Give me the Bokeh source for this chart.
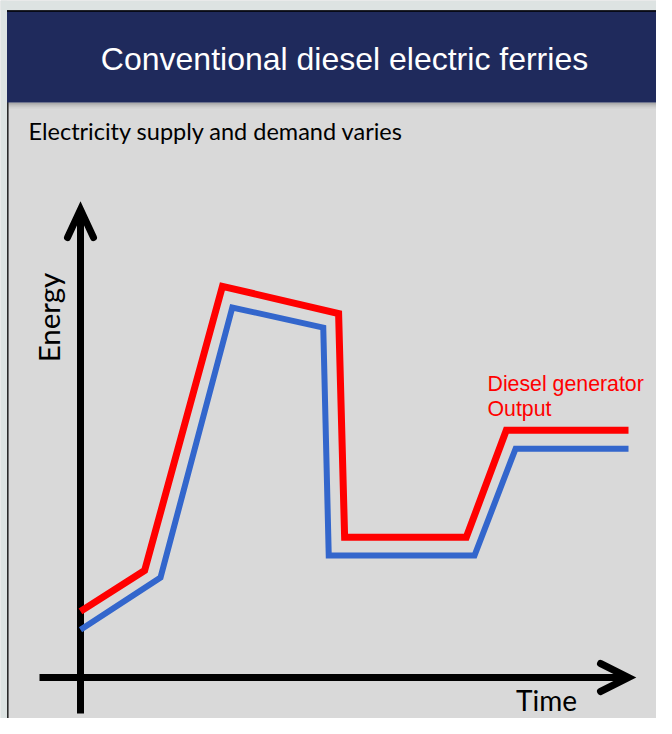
from bokeh.plotting import figure
from bokeh.models import Range1d
from bokeh.core.properties import value
from bokeh.embed import file_html
from bokeh.resources import INLINE
import math

# ---- data (arbitrary units: time 0..10, energy 0..10) ----
red_time   = [0.0, 1.17, 2.59, 4.71, 4.82, 7.04, 7.77, 10.0]
red_energy = [1.41, 2.28, 8.34, 7.76, 2.99, 2.99, 5.27, 5.27]
blue_time   = [0.0, 1.46, 2.77, 4.43, 4.53, 7.19, 7.94, 10.0]
blue_energy = [1.02, 2.13, 7.89, 7.46, 2.60, 2.60, 4.88, 4.88]

title_text = "Conventional diesel electric ferries"
subtitle_text = "Electricity supply and demand varies"
y_label = "Energy"
x_label = "Time"
series_label = ["Diesel generator", "Output"]

# ---- layout: figure pixel <-> data mapping ----
W, H = 656, 718
OX, OY = 80.0, 677.0      # px of the origin
SX, SY = 54.8, 46.9       # px per data unit
def T(px):  # x px -> time
    return (px - OX) / SX
def E(py):  # y px -> energy
    return (OY - py) / SY

p = figure(width=W, height=H, output_backend="svg", toolbar_location=None,
           x_range=Range1d(T(0), T(W)), y_range=Range1d(E(H), E(0)),
           min_border=0, outline_line_color=None)
p.axis.visible = False
p.grid.visible = False
p.background_fill_color = "#d9d9d9"
p.border_fill_color = "#d9d9d9"

# outer light background strips and left border
p.quad(left=T(0), right=T(W), top=E(0), bottom=E(10), fill_color="#dde3e2", line_color=None)
p.quad(left=T(0), right=T(6.5), top=E(0), bottom=E(H), fill_color="#dde3e2", line_color=None)
p.segment(x0=T(7.3), y0=E(10), x1=T(7.3), y1=E(H), line_color="#2b2b2b", line_width=1.6)

# header shadow + header
for i, a in enumerate([0.10, 0.07, 0.04]):
    p.quad(left=T(8), right=T(W), top=E(102), bottom=E(104 + 2 * i),
           fill_color="black", fill_alpha=a, line_color=None)
p.quad(left=T(6.5), right=T(W), top=E(10), bottom=E(102), fill_color="#1f2a5c", line_color=None)
p.segment(x0=T(6.5), y0=E(10.5), x1=T(W), y1=E(10.5), line_color="black", line_width=1.5)

p.text(x=[T(344)], y=[E(58)], text=[title_text], text_color="white",
       text_font=value("Liberation Sans"), text_font_size="32px",
       text_align="center", text_baseline="middle")
p.text(x=[T(28)], y=[E(130)], text=[subtitle_text], text_color="black",
       text_font=value("Lato"), text_font_size="23.5px",
       text_align="left", text_baseline="middle")

# axes with arrows
p.segment(x0=[0, T(39)], y0=[E(713), 0], x1=[0, 10.0], y1=[E(212), 0],
          line_color="black", line_width=7, line_cap="butt")
p.multi_line(xs=[[T(67), 0, T(93)], [T(600), 10.0, T(600)]],
             ys=[[E(237), E(209), E(237)], [E(663), 0, E(691)]],
             line_color="black", line_width=7, line_cap="round", line_join="miter")

# series
p.line(blue_time, blue_energy, line_color="#3366cc", line_width=6, line_join="miter")
p.line(red_time, red_energy, line_color="#ff0000", line_width=7, line_join="miter")

# labels
p.text(x=[T(48)], y=[E(317)], text=[y_label], angle=math.pi / 2, text_color="black",
       text_font=value("Lato"), text_font_size="29.5px",
       text_align="center", text_baseline="middle")
p.text(x=[T(546)], y=[E(699)], text=[x_label], text_color="black",
       text_font=value("Lato"), text_font_size="28px",
       text_align="center", text_baseline="middle")
p.text(x=[T(487), T(487)], y=[E(383), E(408)], text=series_label, text_color="#ff0000",
       text_font=value("Liberation Sans"), text_font_size="21.3px",
       text_align="left", text_baseline="middle")

open("out.html", "w").write(file_html(p, INLINE))
